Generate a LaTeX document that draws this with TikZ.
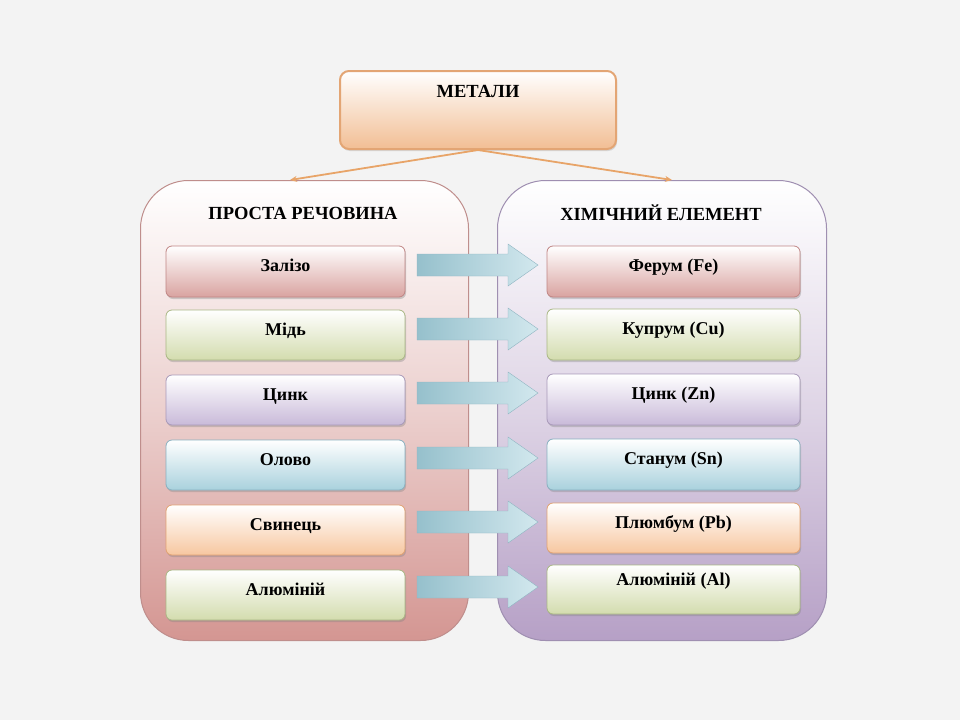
\documentclass[tikz,border=0pt]{standalone}
\usepackage{fontspec}
\setmainfont{Liberation Serif}
\usetikzlibrary{shadows,arrows.meta}
\definecolor{bgc}{HTML}{F3F3F3}
\definecolor{metb}{HTML}{E3A574}
\definecolor{metf}{HTML}{F2BE94}
\definecolor{lcb}{HTML}{BF8E8C}
\definecolor{lcf}{HTML}{D49692}
\definecolor{rcb}{HTML}{9F8FB1}
\definecolor{rcf}{HTML}{B6A0C6}
\definecolor{redb}{HTML}{C08584}
\definecolor{redf}{HTML}{D9A3A0}
\definecolor{grnb}{HTML}{A9B784}
\definecolor{grnf}{HTML}{D3DCAE}
\definecolor{purb}{HTML}{A899B9}
\definecolor{purf}{HTML}{C9BAD9}
\definecolor{blub}{HTML}{88B0C0}
\definecolor{bluf}{HTML}{A9D1DD}
\definecolor{orab}{HTML}{E1A272}
\definecolor{oraf}{HTML}{F7C7A0}
\definecolor{arrl}{HTML}{96C0CC}
\definecolor{arrr}{HTML}{D2E8EE}
\definecolor{arrb}{HTML}{8FB5C2}
\definecolor{lnc}{HTML}{E8A468}
\begin{document}
\begin{tikzpicture}[x=1pt,y=-1pt,
  lbl/.style={font=\bfseries\fontsize{18.5}{20}\selectfont},
  cont/.style={draw=#1, line width=1pt, rounded corners=48pt, inner sep=0pt, anchor=north west},
  item/.style={draw=#1b, line width=0.8pt, rounded corners=6pt, top color=white, bottom color=#1f,
     drop shadow={shadow xshift=1pt, shadow yshift=-2pt, opacity=0.35},
     inner sep=0pt, font=\bfseries\fontsize{18}{20}\selectfont, text height=13pt, text depth=13pt},
  blockarrow/.style={draw=arrb, line width=0.4pt, left color=arrl, right color=arrr},
  link/.style={lnc, line width=1.8pt, -{Stealth[length=7pt,width=6pt]}}
]
\useasboundingbox (0,0) rectangle (960,720);
\fill[bgc] (0,0) rectangle (960,720);

% containers
\node[cont=lcb, minimum width=328pt, minimum height=460pt, top color=white, bottom color=lcf, middle color=lcf!45!white] (LC) at (140,180) {};
\node[cont=rcb, minimum width=329pt, minimum height=460pt, top color=white, bottom color=rcf, middle color=rcf!45!white] (RC) at (497,180) {};

% top box
\node[draw=metb, line width=2pt, rounded corners=9pt, top color=white, bottom color=metf, minimum width=276pt, minimum height=78pt, inner sep=0pt, lbl, text height=13pt, text depth=38pt, drop shadow={shadow xshift=1pt, shadow yshift=-2pt, opacity=0.25}] (M) at (478,110) {МЕТАЛИ};

\draw[link] (M.south) -- (290,180);
\draw[link] (M.south) -- (672,180);

\node[lbl] (LT) at (303,213) {ПРОСТА РЕЧОВИНА};
\node[lbl] (RT) at (661,213) {ХІМІЧНИЙ ЕЛЕМЕНТ};

% left items
\node[item=red, minimum width=239pt, minimum height=51pt] (L1) at (285.5,271.5) {Залізо};
\node[item=grn, minimum width=239pt, minimum height=50pt] (L2) at (285.5,335) {Мідь};
\node[item=pur, minimum width=239pt, minimum height=50pt] (L3) at (285.5,400) {Цинк};
\node[item=blu, minimum width=239pt, minimum height=50pt] (L4) at (285.5,465) {Олово};
\node[item=ora, minimum width=239pt, minimum height=50pt] (L5) at (285.5,530) {Свинець};
\node[item=grn, minimum width=239pt, minimum height=50pt] (L6) at (285.5,595) {Алюміній};

% right items
\node[item=red, minimum width=253pt, minimum height=51pt] (R1) at (673.5,271.5) {Ферум (Fe)};
\node[item=grn, minimum width=253pt, minimum height=51pt] (R2) at (673.5,334.5) {Купрум (Cu)};
\node[item=pur, minimum width=253pt, minimum height=51pt] (R3) at (673.5,399.5) {Цинк (Zn)};
\node[item=blu, minimum width=253pt, minimum height=51pt] (R4) at (673.5,464.5) {Станум (Sn)};
\node[item=ora, minimum width=253pt, minimum height=50pt] (R5) at (673.5,528) {Плюмбум (Pb)};
\node[item=grn, minimum width=253pt, minimum height=49pt, text height=13pt, text depth=21pt] (R6) at (673.5,589.5) {Алюміній (Al)};

% block arrows
\foreach \yy in {265,329,393,458,522,587}{
  \draw[blockarrow] (417,\yy-11) -- (508,\yy-11) -- (508,\yy-21) -- (538,\yy) -- (508,\yy+21) -- (508,\yy+11) -- (417,\yy+11) -- cycle;
}
\end{tikzpicture}
\end{document}
